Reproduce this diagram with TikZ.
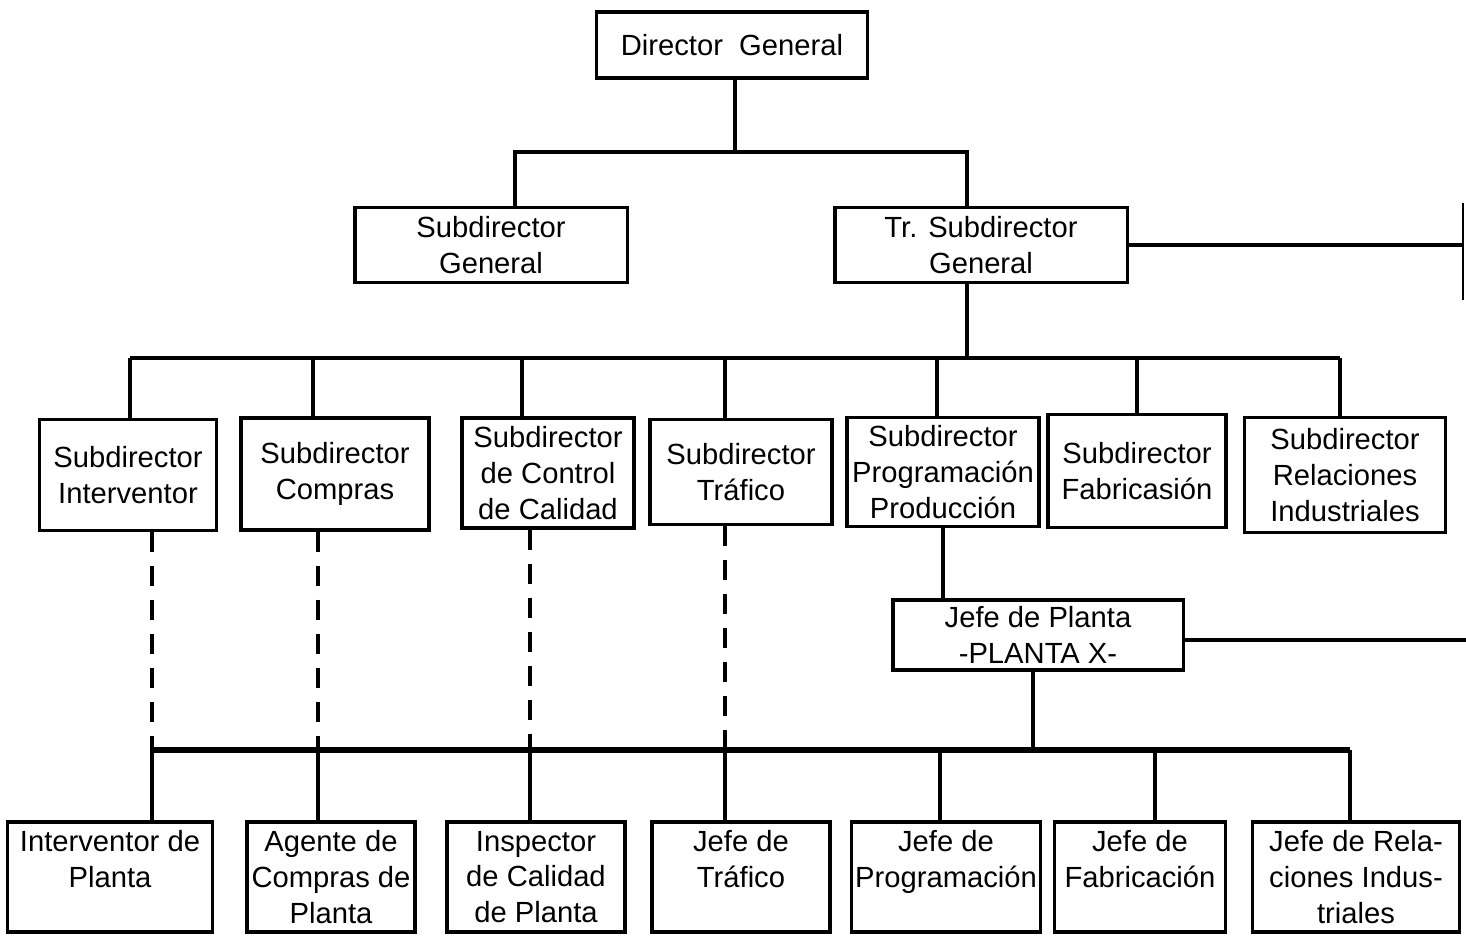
\documentclass[tikz,border=0pt]{standalone}
\usepackage{fontspec}
\setmainfont{Liberation Sans}
\begin{document}
\begin{tikzpicture}[x=0.01cm, y=-0.01cm, line width=0.9pt,
    box/.style={draw, rectangle, align=center, inner sep=1pt,
        font=\fontsize{8.3}{10.2}\selectfont},
    enlace/.style={dash pattern=on 0.2cm off 0.14cm}]

\useasboundingbox (0, 0) rectangle (1466, 936);

\node[box, minimum width=2.71cm, minimum height=0.66cm] (dg) at (732, 45) {Director \ General};

\node[box, minimum width=2.72cm, minimum height=0.75cm] (sg) at (491, 245) {Subdirector\\General};
\node[box, minimum width=2.92cm, minimum height=0.75cm] (tsg) at (981, 245) {Tr. Subdirector\\General};

\node[box, minimum width=1.77cm, minimum height=1.11cm] (s1) at (128, 475) {Subdirector\\Interventor};
\node[box, minimum width=1.88cm, minimum height=1.12cm] (s2) at (335, 474) {Subdirector\\Compras};
\node[box, minimum width=1.72cm, minimum height=1.10cm] (s3) at (548, 473) {Subdirector\\de Control\\de Calidad};
\node[box, minimum width=1.82cm, minimum height=1.05cm] (s4) at (741, 472) {Subdirector\\Tráfico};
\node[box, minimum width=1.92cm, minimum height=1.09cm] (s5) at (943, 472) {Subdirector\\Programación\\Producción};
\node[box, minimum width=1.78cm, minimum height=1.13cm] (s6) at (1137, 471) {Subdirector\\Fabricasión};
\node[box, minimum width=2.01cm, minimum height=1.15cm] (s7) at (1345, 475) {Subdirector\\Relaciones\\Industriales};

\node[box, minimum width=2.90cm, minimum height=0.70cm] (jp) at (1038, 635) {Jefe de Planta\\-PLANTA X-};

\node[box, minimum width=2.05cm, minimum height=1.10cm] (p1) at (110, 877) {Interventor de\\Planta\\~};
\node[box, minimum width=1.68cm, minimum height=1.10cm] (p2) at (331, 877) {Agente de\\Compras de\\Planta};
\node[box, minimum width=1.78cm, minimum height=1.10cm] (p3) at (536, 877) {Inspector\\de Calidad\\de Planta};
\node[box, minimum width=1.78cm, minimum height=1.10cm] (p4) at (741, 877) {Jefe de\\Tráfico\\~};
\node[box, minimum width=1.88cm, minimum height=1.10cm] (p5) at (946, 877) {Jefe de\\Programación\\~};
\node[box, minimum width=1.71cm, minimum height=1.10cm] (p6) at (1140, 877) {Jefe de\\Fabricación\\~};
\node[box, minimum width=2.07cm, minimum height=1.10cm] (p7) at (1356, 877) {Jefe de Rela-\\ciones Indus-\\triales};

\coordinate (a0) at (735, 152);
\coordinate (a1) at (515, 152);
\coordinate (a2) at (967, 152);
\draw (dg.south -| a0) -- (a0);
\draw (a1 |- sg.north) -- (a1) -- (a2) -- (a2 |- tsg.north);

\coordinate (r0) at (1462, 245);
\draw (tsg.east) -- (tsg.east -| r0);
\draw[line width=0.5pt] (1463, 203) -- (1463, 300);

\coordinate (b0) at (967, 358);
\coordinate (k1) at (130, 358);
\coordinate (k2) at (313, 358);
\coordinate (k3) at (522, 358);
\coordinate (k4) at (725, 358);
\coordinate (k5) at (937, 358);
\coordinate (k6) at (1137, 358);
\coordinate (k7) at (1340, 358);
\draw (tsg.south -| b0) -- (b0);
\draw (k1) -- (k7);
\foreach \i in {1,...,7}
    \draw (k\i) -- (k\i |- s\i.north);

\draw (s5.south) -- (s5.south |- jp.north);
\coordinate (r1) at (1466, 640);
\draw ([yshift=-0.05cm]jp.east) -- ([yshift=-0.05cm]jp.east -| r1);

\coordinate (c0) at (1033, 750);
\coordinate (m1) at (152, 750);
\coordinate (m2) at (318, 750);
\coordinate (m3) at (530, 750);
\coordinate (m4) at (725, 750);
\coordinate (m5) at (940, 750);
\coordinate (m6) at (1155, 750);
\coordinate (m7) at (1350, 750);
\draw (jp.south -| c0) -- (c0);
\draw[line width=1.6pt] (m1) -- (m7);
\foreach \i in {1,...,7}
    \draw (m\i) -- (m\i |- p\i.north);
\foreach \i in {1,...,4}
    \draw[enlace] (s\i.south -| m\i) -- (m\i);

\end{tikzpicture}
\end{document}
